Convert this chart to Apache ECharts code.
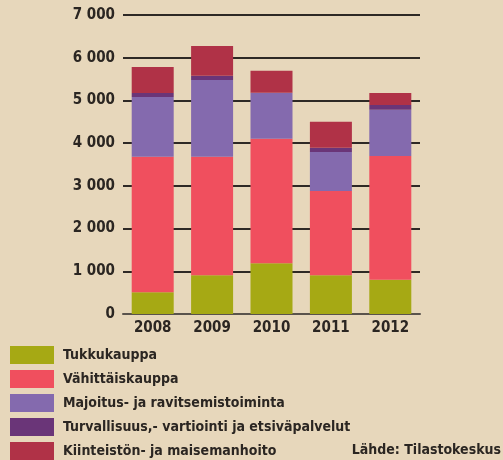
<!DOCTYPE html>
<html>
<head>
<meta charset="utf-8">
<script src="https://cdn.jsdelivr.net/npm/echarts@6/dist/echarts.min.js"></script>
<style>
  html, body { margin: 0; padding: 0; background: #e7d7bb; }
  #chart { width: 503px; height: 460px; }
</style>
</head>
<body>
<div id="chart"></div>
<script>
const years = ['2008', '2009', '2010', '2011', '2012']
const tukkukauppa = [510, 910, 1190, 910, 800]
const vahittaiskauppa = [3170, 2770, 2910, 1970, 2900]
const majoitus = [1400, 1800, 1080, 915, 1080]
const turvallisuus = [95, 95, 0, 95, 115]
const kiinteisto = [610, 700, 515, 610, 280]

const font = '"DejaVu Sans Condensed", "Liberation Sans Narrow", sans-serif'
const textColor = '#2b2622'

const chart = echarts.init(document.getElementById('chart'))

function bar(name, data, color) {
  return {
    name,
    type: 'bar',
    stack: 'total',
    data,
    barWidth: 42,
    itemStyle: { color },
  }
}

chart.setOption({
  backgroundColor: '#e7d7bb',
  animation: false,
  grid: { left: 123, right: 83, top: 15, bottom: 146 },
  legend: {
    orient: 'vertical',
    left: 10,
    top: 346,
    padding: 0,
    height: 120,
    icon: 'rect',
    itemWidth: 44,
    itemHeight: 18,
    itemGap: 6,
    selectedMode: false,
    textStyle: { fontFamily: font, fontWeight: 'bold', fontSize: 14, color: textColor, padding: [0, 0, 0, 4] },
  },
  graphic: [{
    type: 'text',
    right: 2,
    top: 443,
    style: { text: 'Lähde: Tilastokeskus', font: 'bold 14px ' + font, fill: textColor },
  }],
  xAxis: {
    type: 'category',
    data: years,
    axisTick: { show: false },
    axisLine: { lineStyle: { color: '#5a534c', width: 2 } },
    axisLabel: { fontFamily: font, fontWeight: 'bold', fontSize: 15, color: textColor, margin: 7 },
  },
  yAxis: {
    type: 'value',
    min: 0,
    max: 7000,
    interval: 1000,
    axisLine: { show: false },
    axisTick: { show: false },
    splitLine: { lineStyle: { color: '#2e2925', width: 2 } },
    axisLabel: {
      fontFamily: font, fontWeight: 'bold', fontSize: 15, color: textColor, margin: 8,
      formatter: v => v >= 1000 ? Math.floor(v / 1000) + ' ' + String(v % 1000).padStart(3, '0') : String(v),
    },
  },
  series: [
    bar('Tukkukauppa', tukkukauppa, '#a6a914'),
    bar('Vähittäiskauppa', vahittaiskauppa, '#f04f5e'),
    bar('Majoitus- ja ravitsemistoiminta', majoitus, '#846aae'),
    bar('Turvallisuus,- vartiointi ja etsiväpalvelut', turvallisuus, '#6a3578'),
    bar('Kiinteistön- ja maisemanhoito', kiinteisto, '#b03247'),
  ],
})
</script>
</body>
</html>
